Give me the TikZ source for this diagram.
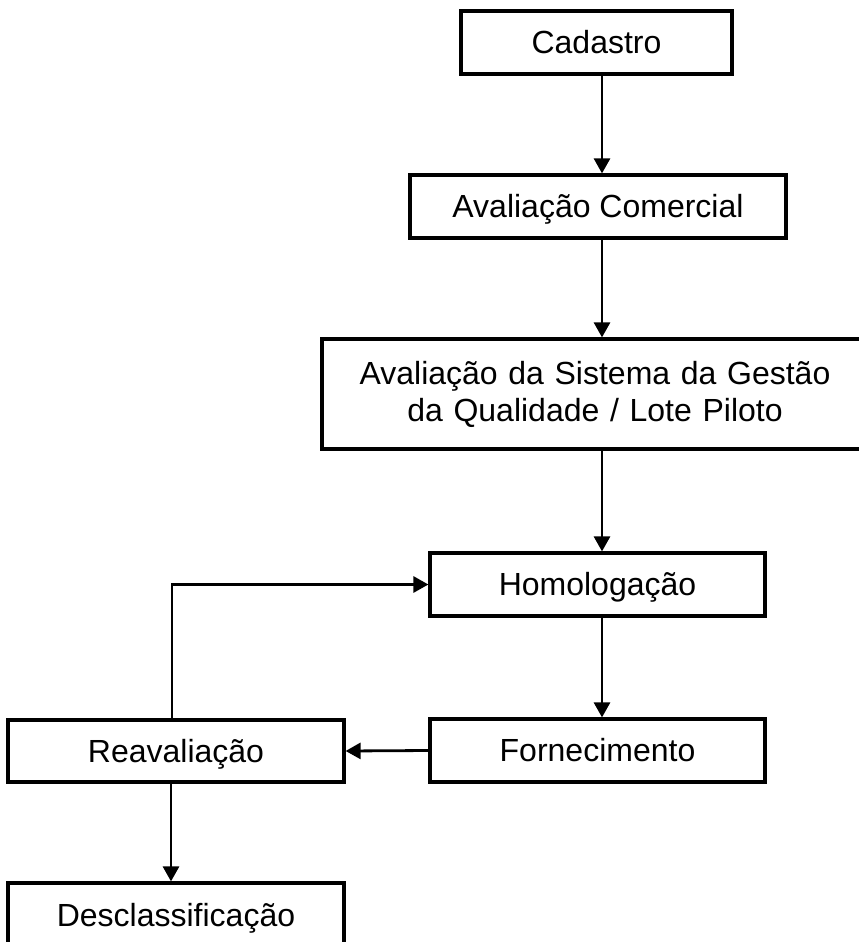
\documentclass[tikz,border=0pt]{standalone}
\usepackage{fontspec}
\setmainfont{Liberation Sans}
\usetikzlibrary{arrows.meta}
\begin{document}
\begin{tikzpicture}[x=1pt,y=-1pt,
  box/.style={draw=black,line width=3.2pt,inner sep=0pt,align=center,
    font=\fontsize{32}{38}\selectfont},
  one/.style={text height=26pt,text depth=4pt},
  conn/.style={line width=2.8pt,-{Triangle[length=15pt,width=16pt]}}]
\useasboundingbox (0,0) rectangle (859,942);
\clip (0,0) rectangle (859,942);
\node[box,one,minimum width=271pt,minimum height=63pt] (cad) at (596.5,42.5) {Cadastro};
\node[box,one,minimum width=376pt,minimum height=63pt] (ac) at (598,206.5) {Avaliação Comercial};
\node[box,minimum width=546pt,minimum height=110pt,text width=546pt] (sg) at (595,394) {Avaliação da Sistema da Gestão\\[-1pt]da Qualidade / Lote Piloto\\[14pt]};
\node[box,one,minimum width=335pt,minimum height=63pt] (hom) at (597.5,584.5) {Homologação};
\node[box,one,minimum width=335pt,minimum height=63pt] (forn) at (597.5,750.5) {Fornecimento};
\node[box,one,minimum width=336pt,minimum height=62pt] (reav) at (176,751) {Reavaliação};
\node[box,one,minimum width=336pt,minimum height=64pt] (desc) at (176,915) {Desclassificação};
\coordinate (col) at (602,0);
\coordinate (lcol) at (171,0);
\coordinate (loop) at (172,0);
\draw[conn] (cad.south -| col) -- (ac.north -| col);
\draw[conn] (ac.south -| col) -- (sg.north -| col);
\draw[conn] (sg.south -| col) -- (hom.north -| col);
\draw[conn] (hom.south -| col) -- (forn.north -| col);
\draw[conn] (forn.west) -- (reav.east);
\draw[conn] (reav.north -| loop) |- (hom.west);
\draw[conn] (reav.south -| lcol) -- (desc.north -| lcol);
\end{tikzpicture}
\end{document}
